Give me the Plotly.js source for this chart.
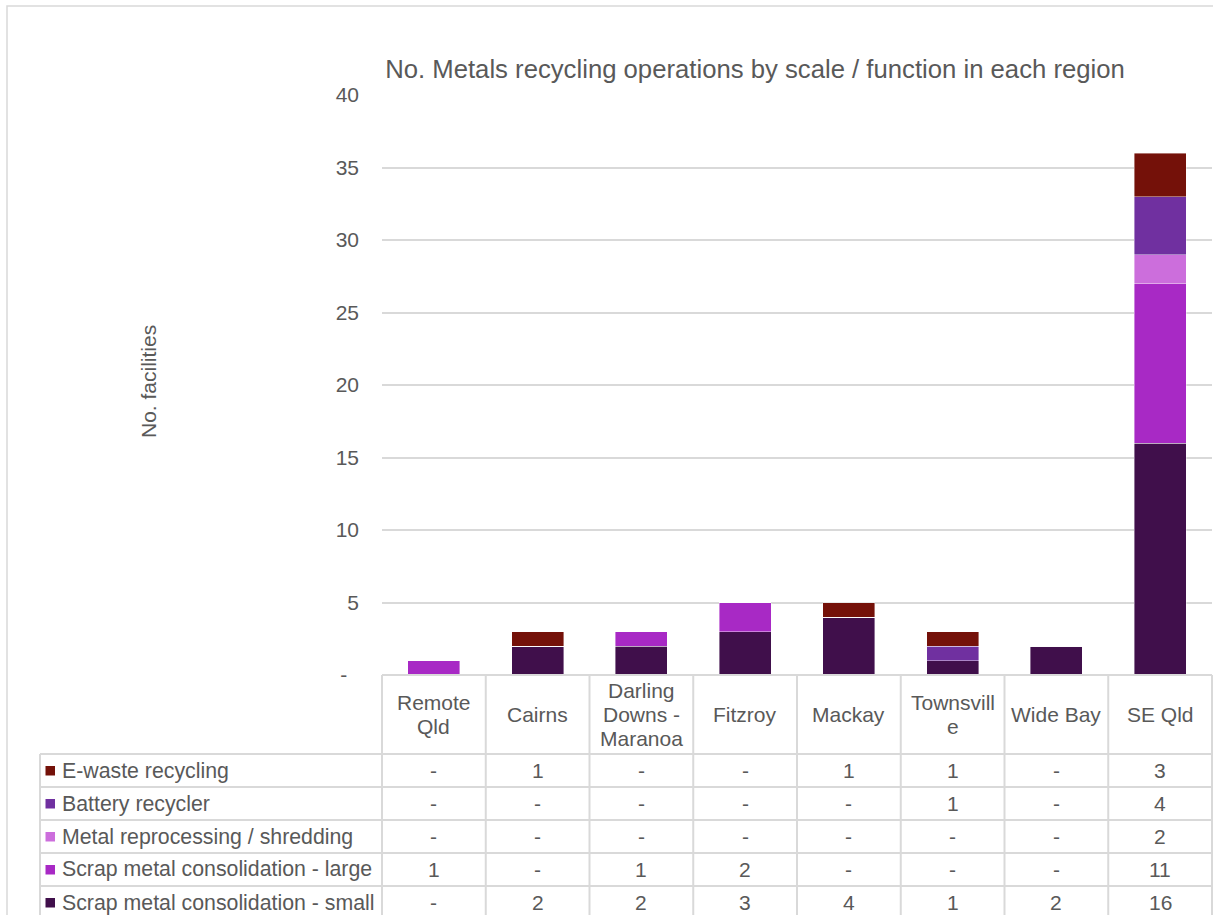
<!DOCTYPE html>
<html><head><meta charset="utf-8">
<script src="https://cdn.plot.ly/plotly-3.0.1.min.js"></script>
<style>html,body{margin:0;padding:0;background:#fff}</style>
</head><body><div id="chart" style="width:1213px;height:915px"></div>
<script>
// ---- data ----
const categories = ["Remote Qld", "Cairns", "Darling Downs - Maranoa", "Fitzroy", "Mackay", "Townsville", "Wide Bay", "SE Qld"];
const categoryLabels = ["Remote<br>Qld", "Cairns", "Darling<br>Downs -<br>Maranoa", "Fitzroy", "Mackay", "Townsvill<br>e", "Wide Bay", "SE Qld"];
const eWasteRecycling = [0, 1, 0, 0, 1, 1, 0, 3];
const batteryRecycler = [0, 0, 0, 0, 0, 1, 0, 4];
const metalReprocessing = [0, 0, 0, 0, 0, 0, 0, 2];
const scrapLarge = [1, 0, 1, 2, 0, 0, 0, 11];
const scrapSmall = [0, 2, 2, 3, 4, 1, 2, 16];
const yTickValues = [0, 5, 10, 15, 20, 25, 30, 35, 40];
const yTickLabels = ["-\u00a0\u00a0", "5", "10", "15", "20", "25", "30", "35", "40"];
const chartTitle = "No. Metals recycling operations by scale / function in each region";
const yTitle = "No. facilities";

// series listed top-to-bottom as in the data table
const tableSeries = [
  {name: "E-waste recycling", values: eWasteRecycling, color: "#741109"},
  {name: "Battery recycler", values: batteryRecycler, color: "#7030a0"},
  {name: "Metal reprocessing / shredding", values: metalReprocessing, color: "#cc6edc"},
  {name: "Scrap metal consolidation - large", values: scrapLarge, color: "#a829c5"},
  {name: "Scrap metal consolidation - small", values: scrapSmall, color: "#400f4b"}
];

// ---- geometry (pixels) ----
const W = 1213, H = 915;
const PL = 382, PR = 1212, PT = 95, PB = 675;
const FONT = "Liberation Sans, Arial, sans-serif";
const GREY = "#595959";
const LINE = "#d9d9d9";
const px = x => (x - PL) / (PR - PL);
const py = y => (PB - y) / (PB - PT);
const nCat = categories.length;

// stacked bars: bottom series first
const traces = tableSeries.slice().reverse().map(s => ({
  type: "bar",
  name: s.name,
  x: categories,
  y: s.values,
  marker: {color: s.color, line: {color: "rgba(255,255,255,0.55)", width: 0.75}},
  hoverinfo: "x+y+name"
}));

const shapes = [];
const annotations = [];

// outer chart border
shapes.push({type: "rect", xref: "paper", yref: "paper", x0: px(7), x1: px(1230), y0: py(6), y1: py(930),
  line: {color: LINE, width: 1.5}, fillcolor: "rgba(0,0,0,0)"});

// table geometry
const headerTop = 675, headerBottom = 754, rowH = 33;
const tableLeft = 40;
shapes.push({type: "line", xref: "paper", yref: "paper", x0: 0, x1: 1, y0: py(headerTop), y1: py(headerTop), line: {color: LINE, width: 2}});
for (let r = 0; r <= tableSeries.length; r++) {
  const y = headerBottom + r * rowH;
  shapes.push({type: "line", xref: "paper", yref: "paper", x0: px(tableLeft), x1: 1, y0: py(y), y1: py(y), line: {color: LINE, width: 2}});
}
for (let i = 0; i <= nCat; i++) {
  const xf = i / nCat;
  shapes.push({type: "line", xref: "paper", yref: "paper", x0: xf, x1: xf, y0: py(headerTop), y1: py(H + 5), line: {color: LINE, width: 2}});
}
shapes.push({type: "line", xref: "paper", yref: "paper", x0: px(tableLeft), x1: px(tableLeft), y0: py(headerBottom), y1: py(H + 5), line: {color: LINE, width: 2}});

// category header labels (manual line spacing)
const lineGap = 24;
const headerCenter = (headerTop + headerBottom) / 2 - 0.5;
categoryLabels.forEach((lab, i) => {
  const lines = lab.split("<br>");
  lines.forEach((ln, k) => {
    const yc = headerCenter + (k - (lines.length - 1) / 2) * lineGap;
    annotations.push({xref: "x", yref: "paper", x: categories[i], y: py(yc), text: ln, showarrow: false,
      xanchor: "center", yanchor: "middle", font: {family: FONT, size: 21, color: GREY}});
  });
});

// table rows
tableSeries.forEach((s, r) => {
  const yc = headerBottom + r * rowH + rowH / 2;
  shapes.push({type: "rect", xref: "paper", yref: "paper", x0: px(45.5), x1: px(55), y0: py(yc - 4.5), y1: py(yc + 5),
    line: {width: 0}, fillcolor: s.color});
  annotations.push({xref: "paper", yref: "paper", x: px(60), y: py(yc), text: s.name, showarrow: false,
    xanchor: "left", yanchor: "middle", font: {family: FONT, size: 21.3, color: GREY}});
  s.values.forEach((v, i) => {
    annotations.push({xref: "x", yref: "paper", x: categories[i], y: py(yc), text: v === 0 ? "-" : String(v), showarrow: false,
      xanchor: "center", yanchor: "middle", font: {family: FONT, size: 21, color: GREY}});
  });
});

// y-axis title
annotations.push({xref: "paper", yref: "paper", x: px(148), y: py(382), text: yTitle, textangle: -90, showarrow: false,
  xanchor: "center", yanchor: "middle", font: {family: FONT, size: 21, color: GREY}});

const layout = {
  width: W, height: H,
  margin: {l: PL, r: W - PR, t: PT, b: H - PB, pad: 0},
  paper_bgcolor: "#ffffff", plot_bgcolor: "#ffffff",
  barmode: "stack", bargap: 0.5,
  showlegend: false,
  font: {family: FONT, color: GREY},
  title: {text: chartTitle, font: {family: FONT, size: 25.7, color: GREY},
    xref: "container", yref: "container", x: 755 / W, xanchor: "center", y: 1 - 69 / H, yanchor: "middle"},
  xaxis: {type: "category", range: [-0.5, nCat - 0.5], showticklabels: false, showgrid: false, zeroline: false,
    showline: false, ticks: "", fixedrange: true},
  yaxis: {range: [0, 40], tickvals: yTickValues, ticktext: yTickLabels, showgrid: true, gridcolor: LINE, gridwidth: 2,
    zeroline: false, showline: false, ticks: "", ticklabelstandoff: 22,
    tickfont: {family: FONT, size: 21, color: GREY}, fixedrange: true},
  shapes: shapes,
  annotations: annotations
};

Plotly.newPlot("chart", traces, layout, {displayModeBar: false, staticPlot: true});
</script>
</body></html>
